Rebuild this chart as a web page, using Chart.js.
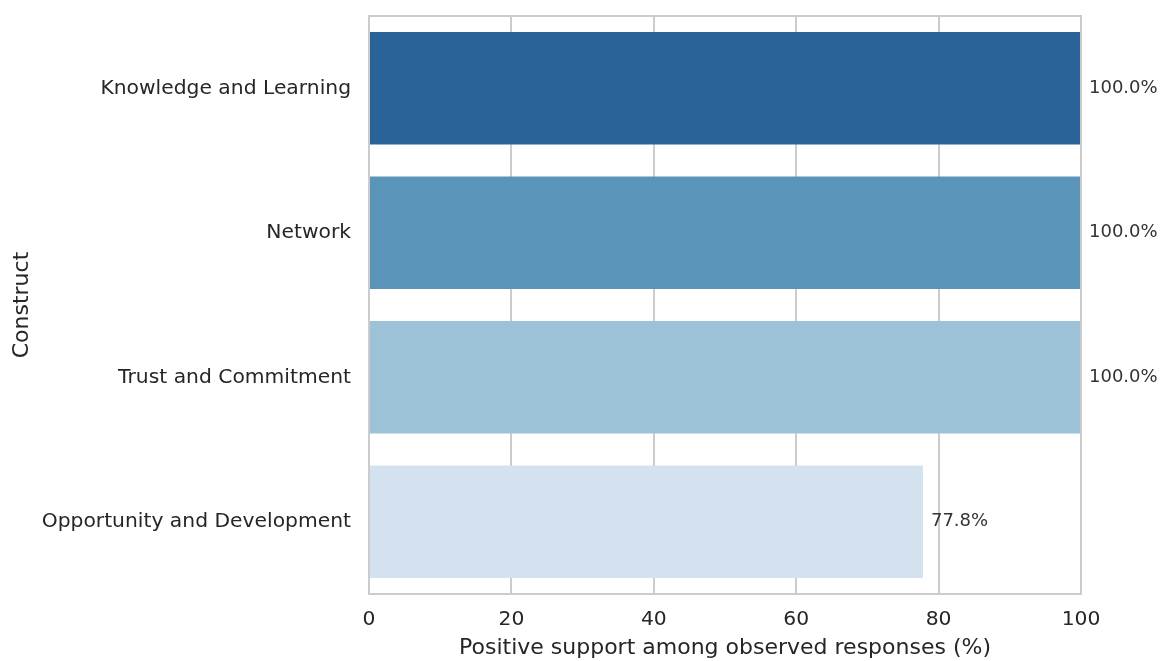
<!DOCTYPE html>
<html>
<head>
<meta charset="utf-8">
<script src="https://cdn.jsdelivr.net/npm/chart.js@4"></script>
<style>
  html, body { margin: 0; padding: 0; background: #ffffff; }
  #wrap { width: 1163px; height: 661px; position: relative; }
</style>
</head>
<body>
<div id="wrap"><canvas id="c" width="1163" height="661"></canvas></div>
<script>
const categories = ["Knowledge and Learning", "Network", "Trust and Commitment", "Opportunity and Development"];
const values = [100.0, 100.0, 100.0, 77.8];
const barColors = ["#2a6398", "#5a94b9", "#9dc1d6", "#d4e1ee"];
const xTicks = [0, 20, 40, 60, 80, 100];
const xTitle = "Positive support among observed responses (%)";
const yTitle = "Construct";

const FONT = "'DejaVu Sans', sans-serif";
const GRID = "#cccccc";
const TXT = "#262626";

const frameAndLabels = {
  id: "frameAndLabels",
  afterDatasetsDraw(chart) {
    const ctx = chart.ctx;
    const xs = chart.scales.x, ys = chart.scales.y;
    ctx.save();
    ctx.font = "18px " + FONT;
    ctx.fillStyle = "#333333";
    ctx.textAlign = "left";
    ctx.textBaseline = "middle";
    values.forEach((v, i) => {
      ctx.fillText(v.toFixed(1) + "%", xs.getPixelForValue(v) + 8, ys.getPixelForValue(i));
    });
    const a = chart.chartArea;
    ctx.strokeStyle = GRID;
    ctx.lineWidth = 2;
    ctx.strokeRect(a.left, a.top, a.right - a.left, a.bottom - a.top);
    ctx.restore();
  }
};

new Chart(document.getElementById("c"), {
  type: "bar",
  data: {
    labels: categories,
    datasets: [{
      data: values,
      backgroundColor: barColors,
      borderWidth: 0,
      categoryPercentage: 1.0,
      barPercentage: 0.78
    }]
  },
  options: {
    indexAxis: "y",
    responsive: false,
    animation: false,
    layout: { padding: { left: 0, right: 82, top: 16, bottom: 0 } },
    plugins: { legend: { display: false }, tooltip: { enabled: false } },
    scales: {
      x: {
        min: 0, max: 100,
        afterBuildTicks(s) { s.ticks = xTicks.map(v => ({ value: v })); },
        afterFit(s) { s.height = 661 - 594; s.paddingLeft = 0; s.paddingRight = 0; },
        grid: { color: GRID, lineWidth: 2, drawTicks: false },
        border: { display: false },
        ticks: { color: TXT, font: { family: FONT, size: 20.3 }, padding: 14, maxRotation: 0 },
        title: { display: true, text: xTitle, color: TXT, font: { family: FONT, size: 22 }, padding: { top: 0, bottom: 0 } }
      },
      y: {
        afterFit(s) { s.width = 369; s.paddingTop = 0; s.paddingBottom = 0; },
        grid: { display: false, drawTicks: false },
        border: { display: false },
        ticks: { color: TXT, font: { family: FONT, size: 20.3 }, padding: 18 },
        title: { display: true, text: yTitle, color: TXT, font: { family: FONT, size: 22 }, padding: { top: 9, bottom: 0 } }
      }
    }
  },
  plugins: [frameAndLabels]
});
</script>
</body>
</html>
